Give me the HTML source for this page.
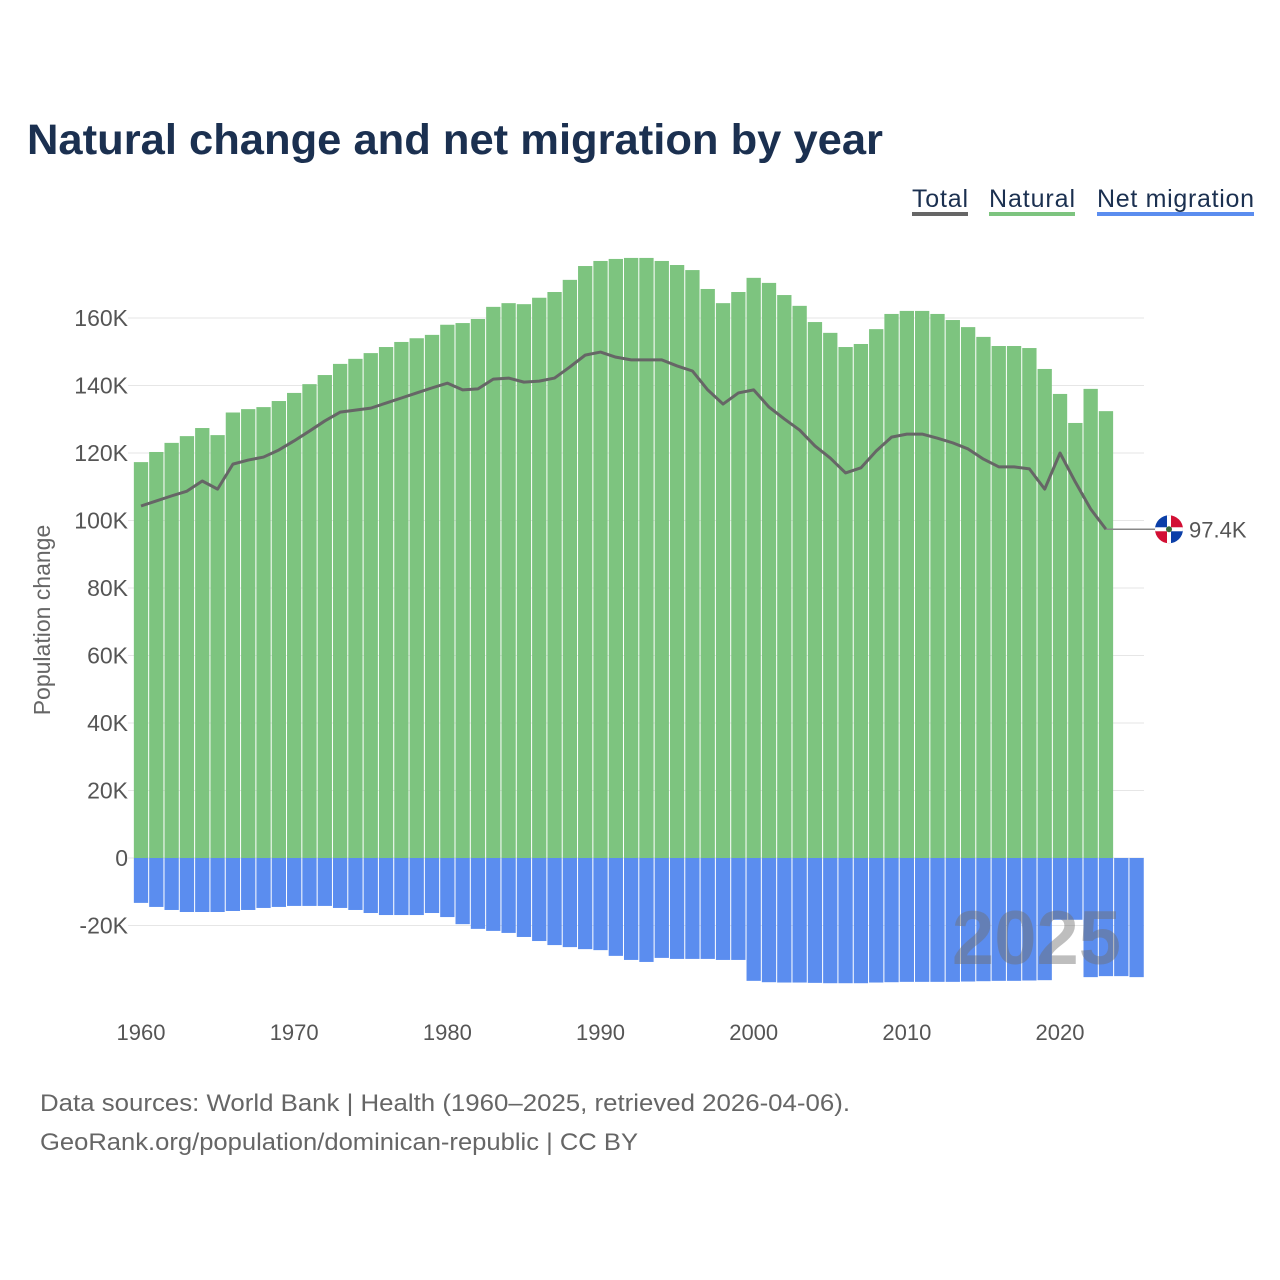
<!DOCTYPE html>
<html><head><meta charset="utf-8"><style>
html,body{margin:0;padding:0;background:#fff;}
body{width:1280px;height:1280px;position:relative;overflow:hidden;font-family:"Liberation Sans",sans-serif;}
</style></head><body>
<svg id="chart" width="1280" height="1280" xmlns="http://www.w3.org/2000/svg" style="position:absolute;left:0;top:0">
<text x="27" y="154" font-size="43" font-weight="bold" fill="#1b3050" textLength="856" lengthAdjust="spacingAndGlyphs">Natural change and net migration by year</text>
<g font-size="25" fill="#1b3050">
<g><text x="912" y="207" textLength="56">Total</text><rect x="912" y="212" width="56" height="4" fill="#666"/></g>
<g><text x="989" y="207" textLength="86">Natural</text><rect x="989" y="212" width="86" height="4" fill="#7dc47f"/></g>
<g><text x="1097" y="207" textLength="157">Net migration</text><rect x="1097" y="212" width="157" height="4" fill="#5b8def"/></g>
</g>
<text transform="translate(50,620) rotate(-90)" text-anchor="middle" font-size="23" fill="#666">Population change</text>
<g id="grid"></g><g id="bars"></g><g id="line"></g><g id="axes"></g>
<text x="40" y="1111" font-size="24" fill="#666" textLength="810" lengthAdjust="spacingAndGlyphs">Data sources: World Bank | Health (1960–2025, retrieved 2026-04-06).</text>
<text x="40" y="1150" font-size="24" fill="#666" textLength="598" lengthAdjust="spacingAndGlyphs">GeoRank.org/population/dominican-republic | CC BY</text>
</svg>
<script>
const years=[];for(let y=1960;y<=2025;y++)years.push(y);
const natural=[117.3,120.3,123,125,127.4,125.3,132,133,133.6,135.4,137.8,140.4,143.1,146.4,147.9,149.6,151.4,152.9,154,155,158,158.5,159.7,163.3,164.4,164.1,166,167.7,171.3,175.4,176.9,177.5,177.8,177.8,176.9,175.7,174.2,168.6,164.4,167.7,171.9,170.4,166.8,163.6,158.8,155.6,151.4,152.3,156.7,161.2,162.1,162.1,161.2,159.4,157.3,154.4,151.7,151.7,151.1,144.9,137.5,128.9,139,132.4,0,0];
const migration=[-13.3,-14.5,-15.4,-16,-16,-16,-15.7,-15.4,-14.8,-14.5,-14.2,-14.2,-14.2,-14.8,-15.4,-16.3,-16.9,-16.9,-16.9,-16.3,-17.5,-19.6,-21,-21.6,-22.2,-23.4,-24.6,-25.8,-26.4,-27,-27.3,-29,-30.2,-30.8,-29.6,-29.9,-29.9,-29.9,-30.2,-30.2,-36.4,-36.8,-36.9,-36.9,-37,-37.1,-37.1,-37.1,-36.9,-36.8,-36.7,-36.7,-36.7,-36.7,-36.6,-36.5,-36.4,-36.4,-36.3,-36.2,-18.3,-18.3,-35.3,-35,-35,-35.3];
const total=[104.3,105.8,107.3,108.7,111.7,109.3,116.7,117.9,118.8,120.9,123.6,126.5,129.5,132.1,132.7,133.3,134.8,136.3,137.8,139.3,140.7,138.7,139,141.9,142.2,141,141.3,142.2,145.5,149,149.9,148.4,147.6,147.6,147.6,145.8,144.3,138.7,134.5,137.8,138.7,133.6,130.1,126.8,122.1,118.5,114.1,115.6,120.6,124.7,125.6,125.6,124.4,123,121.2,118.2,115.9,115.9,115.3,109.3,120,111.4,103.4,97.4];
const yTicks=[-20,0,20,40,60,80,100,120,140,160];
const xTicks=[1960,1970,1980,1990,2000,2010,2020];
const NS="http://www.w3.org/2000/svg";
const X=y=>141+(y-1960)*15.317;
const Y=v=>858-v*3.375;
const bw=14.3;
function mk(tag,attrs,parent){const e=document.createElementNS(NS,tag);for(const k in attrs)e.setAttribute(k,attrs[k]);document.getElementById(parent).appendChild(e);return e;}
yTicks.forEach(t=>{
  const g=mk('line',{x1:128,x2:1144,y1:Y(t),y2:Y(t),stroke:'#e6e6e6','stroke-width':1},'grid');
  
  
  const l=mk('text',{x:128,y:Y(t)+8,'text-anchor':'end','font-size':23,fill:'#555'},'axes');
  
  
  l.textContent=t===0?'0':(t+'K');
});
xTicks.forEach(t=>{
  const l=mk('text',{x:X(t),y:1040,'text-anchor':'middle','font-size':22,fill:'#555'},'axes');
  
  
  l.textContent=t;
});
years.forEach((yr,i)=>{
  if(natural[i]>0){const r=mk('rect',{x:X(yr)-bw/2,y:Y(natural[i]),width:bw,height:Y(0)-Y(natural[i]),fill:'#7dc47f'},'bars');
  
  }
  const m=mk('rect',{x:X(yr)-bw/2,y:Y(0),width:bw,height:Y(migration[i])-Y(0),fill:'#5b8def'},'bars');
  
  
});
const wm=mk('text',{x:1121,y:964,'text-anchor':'end','font-size':76,'font-weight':'bold',fill:'rgba(110,110,110,0.45)'},'bars');


wm.textContent='2025';
const pts=total.map((v,i)=>X(years[i])+','+Y(v)).join(' ');
const pl=mk('polyline',{points:pts,fill:'none',stroke:'#666','stroke-width':3,'stroke-linejoin':'round'},'line');


const last=total.length-1,ly=Y(total[last]);
const ld=mk('line',{x1:X(years[last]),x2:1155,y1:ly,y2:ly,stroke:'#888','stroke-width':1.5},'line');


const cx=1169;
const fg=mk('g',{},'line');


fg.innerHTML=`<clipPath id="fc"><circle cx="${cx}" cy="${ly}" r="14"/></clipPath><g clip-path="url(#fc)"><rect x="${cx-14}" y="${ly-14}" width="14" height="14" fill="#0b3fa8"/><rect x="${cx}" y="${ly-14}" width="14" height="14" fill="#d21034"/><rect x="${cx-14}" y="${ly}" width="14" height="14" fill="#d21034"/><rect x="${cx}" y="${ly}" width="14" height="14" fill="#0b3fa8"/><rect x="${cx-14}" y="${ly-2}" width="28" height="4" fill="#fff"/><rect x="${cx-2}" y="${ly-14}" width="4" height="28" fill="#fff"/><circle cx="${cx}" cy="${ly}" r="3" fill="#3a6a3a"/></g>`;
const vl=mk('text',{x:1189,y:ly+8,'font-size':22,fill:'#555'},'line');


vl.textContent=total[last]+'K';
</script>
</body></html>
